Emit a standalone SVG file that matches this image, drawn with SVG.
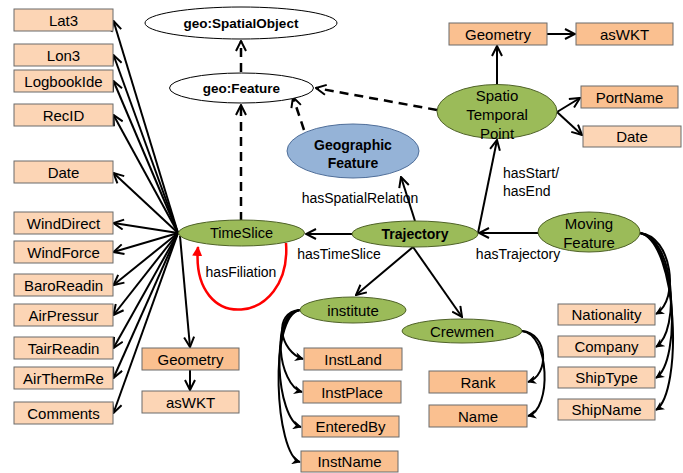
<svg xmlns="http://www.w3.org/2000/svg" width="683" height="473" viewBox="0 0 683 473">
<defs>
<marker id="arr" viewBox="0 0 12 12" refX="11" refY="6" markerWidth="12" markerHeight="12" markerUnits="userSpaceOnUse" orient="auto">
<path d="M1,1 L11,6 L1,11" fill="none" stroke="#000" stroke-width="2"/>
</marker>
<marker id="tri" viewBox="0 0 10 10" refX="9" refY="5" markerWidth="9" markerHeight="9" markerUnits="userSpaceOnUse" orient="auto">
<path d="M0,0 L10,5 L0,10 L3,5 z" fill="#000"/>
</marker>
<marker id="red" viewBox="0 0 10 10" refX="9" refY="5" markerWidth="10" markerHeight="10" markerUnits="userSpaceOnUse" orient="auto">
<path d="M0,0 L10,5 L0,10 z" fill="#FF0000"/>
</marker>
<style>
text{font-family:"Liberation Sans",Arial,sans-serif;fill:#000;text-anchor:middle;dominant-baseline:central}
.t{font-size:15px}
.b{font-size:13.5px;font-weight:bold}
.lbl{font-size:14px}
.lt{fill:#FCD5B5;stroke:#6b6b6b;stroke-width:1}
.dk{fill:#FAC090;stroke:#6b6b6b;stroke-width:1}
.gr{fill:#9BBB59;stroke:#4f6228;stroke-width:1}
.wh{fill:#fff;stroke:#000;stroke-width:1}
.bl{fill:#95B3D7;stroke:#4f6e99;stroke-width:1}
.ln{fill:none;stroke:#000;stroke-width:2;marker-end:url(#arr)}
.cv{fill:none;stroke:#000;stroke-width:2;marker-end:url(#tri)}
.ds{fill:none;stroke:#000;stroke-width:2.5;stroke-dasharray:9 6;marker-end:url(#arr)}
</style>
</defs>
<rect width="683" height="473" fill="#fff"/>
<g id="connectors">
<path class="ds" d="M241,221 L241,105"/>
<path class="ds" d="M241,72 L241,41"/>
<path class="ds" d="M304,130 L293,97"/>
<path class="ds" d="M437,110 L316,88"/>
<path class="ln" d="M178,233 L113.5,21"/>
<path class="ln" d="M178,233 L113.5,55"/>
<path class="ln" d="M178,233 L113.5,81"/>
<path class="ln" d="M178,233 L113.5,115"/>
<path class="ln" d="M178,233 L113.5,173"/>
<path class="ln" d="M178,233 L113.5,223"/>
<path class="ln" d="M178,233 L113.5,252"/>
<path class="ln" d="M178,233 L113.5,285"/>
<path class="ln" d="M178,233 L113.5,315"/>
<path class="ln" d="M178,233 L113.5,348"/>
<path class="ln" d="M178,233 L113.5,378"/>
<path class="ln" d="M178,233 L113.5,413"/>
<path class="ln" d="M180,236 L190,347"/>
<path class="ln" d="M190,370 L190,390"/>
<path class="ln" d="M352,234 L306,234"/>
<path class="ln" d="M415,221 L401,177"/>
<path class="ln" d="M478,233 L497,140"/>
<path class="ln" d="M538,233 L479,233"/>
<path class="ln" d="M497,85 L497,46"/>
<path class="ln" d="M547,34 L575,34"/>
<path class="ln" d="M557,112 L580,98"/>
<path class="ln" d="M557,112 L582,135"/>
<path class="ln" d="M413,247 L356,295"/>
<path class="ln" d="M413,247 L462,317"/>
<path d="M286,243 C292,326 190,336 198,247" fill="none" stroke="#FF0000" stroke-width="2.5" marker-end="url(#red)"/>
<path class="cv" d="M640,233 C672,236 680,300 656,314"/>
<path class="cv" d="M640,233 C674,238 681,330 656,347"/>
<path class="cv" d="M640,233 C676,240 682,360 656,378"/>
<path class="cv" d="M640,233 C678,242 683,392 656,410"/>
<path class="cv" d="M300,310 C272,312 280,352 303,359"/>
<path class="cv" d="M300,310 C270,313 278,385 302,392"/>
<path class="cv" d="M300,310 C269,314 276,420 301,427"/>
<path class="cv" d="M300,310 C268,315 275,455 300,462"/>
<path class="cv" d="M522,331 C548,333 550,375 528,382"/>
<path class="cv" d="M522,331 C550,334 552,410 528,416"/>
</g>
<g id="geo-SpatialObject"><ellipse class="wh" cx="241" cy="23" rx="96" ry="16"/><text class="b" x="241" y="23">geo:SpatialObject</text></g>
<g id="geo-Feature"><ellipse class="wh" cx="241.5" cy="88" rx="72" ry="15"/><text class="b" x="241.5" y="88">geo:Feature</text></g>
<g id="GeographicFeature"><ellipse class="bl" cx="353" cy="151" rx="66" ry="27"/><text class="b" x="353" y="145" style="font-size:14px">Geographic</text><text class="b" x="353" y="163" style="font-size:14px">Feature</text></g>
<g id="SpatioTemporalPoint"><ellipse class="gr" cx="497" cy="111.5" rx="60" ry="27"/><text class="t" x="497" y="95">Spatio</text><text class="t" x="497" y="114">Temporal</text><text class="t" x="497" y="133">Point</text></g>
<g id="TimeSlice"><ellipse class="gr" cx="241.5" cy="233" rx="63" ry="13"/><text class="t" x="241.5" y="233" style="font-size:14.5px">TimeSlice</text></g>
<g id="Trajectory"><ellipse class="gr" cx="415" cy="234" rx="63" ry="13"/><text class="b" x="415" y="234" style="font-size:14px">Trajectory</text></g>
<g id="MovingFeature"><ellipse class="gr" cx="589" cy="232" rx="51" ry="20"/><text class="t" x="589" y="223">Moving</text><text class="t" x="589" y="242">Feature</text></g>
<g id="institute"><ellipse class="gr" cx="353" cy="310" rx="53" ry="13"/><text class="t" x="353" y="310">institute</text></g>
<g id="Crewmen"><ellipse class="gr" cx="462" cy="331" rx="60" ry="12"/><text class="t" x="462" y="331">Crewmen</text></g>
<g id="Lat3"><rect class="lt" x="14" y="9" width="99" height="22"/><text class="t" x="63.5" y="20">Lat3</text></g>
<g id="Lon3"><rect class="lt" x="14" y="44" width="99" height="22"/><text class="t" x="63.5" y="55">Lon3</text></g>
<g id="LogbookIde"><rect class="lt" x="14" y="70" width="99" height="22"/><text class="t" x="63.5" y="81">LogbookIde</text></g>
<g id="RecID"><rect class="lt" x="14" y="104" width="99" height="22"/><text class="t" x="63.5" y="115">RecID</text></g>
<g id="Date-left"><rect class="lt" x="14" y="161" width="99" height="22"/><text class="t" x="63.5" y="172">Date</text></g>
<g id="WindDirect"><rect class="lt" x="14" y="212" width="99" height="22"/><text class="t" x="63.5" y="223">WindDirect</text></g>
<g id="WindForce"><rect class="lt" x="14" y="241" width="99" height="22"/><text class="t" x="63.5" y="252">WindForce</text></g>
<g id="BaroReadin"><rect class="lt" x="14" y="274" width="99" height="22"/><text class="t" x="63.5" y="285">BaroReadin</text></g>
<g id="AirPressur"><rect class="lt" x="14" y="304" width="99" height="22"/><text class="t" x="63.5" y="315">AirPressur</text></g>
<g id="TairReadin"><rect class="lt" x="14" y="337" width="99" height="22"/><text class="t" x="63.5" y="348">TairReadin</text></g>
<g id="AirThermRe"><rect class="lt" x="14" y="367" width="99" height="22"/><text class="t" x="63.5" y="378">AirThermRe</text></g>
<g id="Comments"><rect class="lt" x="14" y="402" width="99" height="22"/><text class="t" x="63.5" y="413">Comments</text></g>
<g id="Geometry-left"><rect class="dk" x="142" y="348" width="97" height="22"/><text class="t" x="190.5" y="359">Geometry</text></g>
<g id="asWKT-left"><rect class="lt" x="142" y="391" width="97" height="22"/><text class="t" x="190.5" y="402">asWKT</text></g>
<g id="Geometry-top"><rect class="dk" x="449" y="23" width="98" height="22"/><text class="t" x="498" y="34">Geometry</text></g>
<g id="asWKT-top"><rect class="dk" x="576" y="23" width="97" height="22"/><text class="t" x="624.5" y="34">asWKT</text></g>
<g id="PortName"><rect class="dk" x="581" y="86" width="97" height="22"/><text class="t" x="629.5" y="97">PortName</text></g>
<g id="Date-right"><rect class="lt" x="583" y="126" width="98" height="21"/><text class="t" x="632" y="136.5">Date</text></g>
<g id="Nationality"><rect class="lt" x="558" y="304" width="97" height="21"/><text class="t" x="606.5" y="314.5">Nationality</text></g>
<g id="Company"><rect class="lt" x="558" y="336" width="97" height="21"/><text class="t" x="606.5" y="346.5">Company</text></g>
<g id="ShipType"><rect class="lt" x="558" y="367" width="97" height="21"/><text class="t" x="606.5" y="377.5">ShipType</text></g>
<g id="ShipName"><rect class="lt" x="558" y="399" width="97" height="21"/><text class="t" x="606.5" y="409.5">ShipName</text></g>
<g id="InstLand"><rect class="dk" x="304" y="348" width="98" height="22"/><text class="t" x="353" y="359">InstLand</text></g>
<g id="InstPlace"><rect class="dk" x="303" y="381" width="98" height="22"/><text class="t" x="352" y="392">InstPlace</text></g>
<g id="EnteredBy"><rect class="dk" x="302" y="416" width="97" height="21"/><text class="t" x="350.5" y="426.5">EnteredBy</text></g>
<g id="InstName"><rect class="dk" x="301" y="451" width="97" height="21"/><text class="t" x="349.5" y="461.5">InstName</text></g>
<g id="Rank"><rect class="dk" x="429" y="371" width="98" height="22"/><text class="t" x="478" y="382">Rank</text></g>
<g id="Name"><rect class="dk" x="429" y="405" width="98" height="22"/><text class="t" x="478" y="416">Name</text></g>
<g id="labels">
<text class="lbl" x="360" y="198">hasSpatialRelation</text>
<text class="lbl" x="339" y="254">hasTimeSlice</text>
<text class="lbl" x="241" y="272">hasFiliation</text>
<text class="lbl" x="518" y="254">hasTrajectory</text>
<text class="lbl" x="503" y="173" style="text-anchor:start">hasStart/</text>
<text class="lbl" x="503" y="191" style="text-anchor:start">hasEnd</text>
</g>
</svg>
